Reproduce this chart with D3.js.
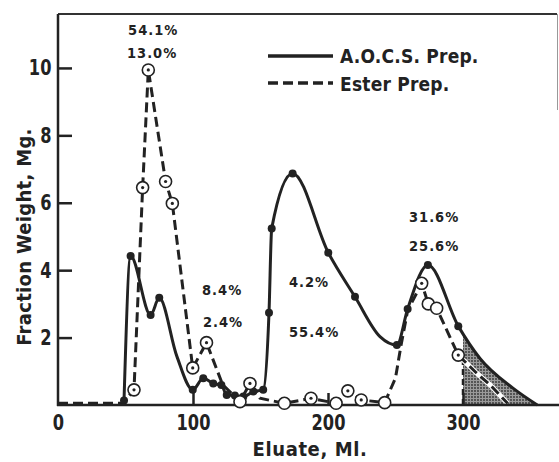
<!DOCTYPE html>
<html>
<head>
<meta charset="utf-8">
<script src="https://cdn.jsdelivr.net/npm/d3@7"></script>
<style>
  body { margin: 0; background: #fff; }
  text { font-family: "DejaVu Sans Condensed", "DejaVu Sans", sans-serif; font-weight: bold; fill: #222; }
</style>
</head>
<body>
<div id="chart"></div>
<script>
// A.O.C.S. prep: [eluate ml, weight mg, has dot]
const aocsPoints = [
    [48.9, 0.13, 1], [53.8, 4.42, 1], [68.6, 2.67, 1], [75, 3.18, 1], [88, 1.45, 0],
    [99.8, 0.45, 1], [107.6, 0.79, 1], [115, 0.64, 1], [121, 0.59, 1], [125, 0.3, 1],
    [131, 0.28, 1], [137.3, 0.25, 1], [144.7, 0.4, 1], [152, 0.45, 1], [156.3, 2.74, 1],
    [158.3, 5.24, 1], [173.8, 6.87, 1], [200.2, 4.52, 1], [220, 3.21, 1], [238.5, 2.03, 0],
    [251, 1.78, 1], [259, 2.85, 1], [274, 4.15, 1], [296.5, 2.34, 1], [312.6, 1.38, 0],
    [337, 0.5, 0], [355, 0, 0]
];
// Ester prep: [eluate ml, weight mg, marker 0 none / 1 dotted circle / 2 open circle]
const esterPoints = [
    [0, 0.05, 0], [48, 0.05, 0], [56.3, 0.45, 1], [62.7, 6.45, 1], [66.9, 9.94, 1],
    [79.7, 6.63, 1], [84.7, 5.98, 1], [99.8, 1.1, 1], [110, 1.85, 1], [122, 0.6, 0],
    [134.8, 0.1, 2], [142.2, 0.64, 1], [149.6, 0.2, 0], [167.7, 0.05, 2], [187.4, 0.2, 1],
    [206, 0.05, 2], [214.7, 0.42, 1], [224.6, 0.15, 1], [242, 0.07, 2], [250, 0.8, 0],
    [254, 1.75, 0], [259, 2.8, 0], [269.4, 3.61, 1], [274.3, 3.0, 2], [280.5, 2.87, 2],
    [296.5, 1.48, 1], [310, 0.95, 0], [320, 0.6, 0], [333, 0.05, 0]
];
const xTicks = [0, 100, 200, 300];
const yTicks = [2, 4, 6, 8, 10];
const shadeStart = 300;
const shadeTop = 1.3;
// percentage notes: [text, eluate, weight]
const notes = [
    ["54.1%", 51.9, 10.98], ["13.0%", 51.1, 10.3],
    ["8.4%", 106.7, 3.26], ["2.4%", 107.4, 2.32],
    ["4.2%", 171.1, 3.51], ["55.4%", 171.1, 2.03],
    ["31.6%", 260, 5.44], ["25.6%", 260, 4.58]
];
const legendNames = ["A.O.C.S. Prep.", "Ester Prep."];

const width = 559, height = 462;
const svg = d3.select("#chart").append("svg")
    .attr("width", width)
    .attr("height", height);

const defs = svg.append("defs");
const pat = defs.append("pattern")
    .attr("id", "stipple")
    .attr("width", 3).attr("height", 3)
    .attr("patternUnits", "userSpaceOnUse");
pat.append("rect").attr("width", 3).attr("height", 3).attr("fill", "#9a9a9a");
pat.append("circle").attr("cx", 1).attr("cy", 1).attr("r", 0.9).attr("fill", "#333");

const xScale = d3.scaleLinear().domain([0, 370]).range([58, 557.5]);
const yScale = d3.scaleLinear().domain([0, 11.6]).range([405, 14]);

defs.append("clipPath").attr("id", "shadeClip")
    .append("rect")
    .attr("x", xScale(shadeStart)).attr("y", 0)
    .attr("width", width - xScale(shadeStart)).attr("height", height);

// frame
svg.append("line").attr("x1", 58).attr("x2", 557).attr("y1", 14).attr("y2", 14)
    .attr("stroke", "#333").attr("stroke-width", 2);
svg.append("line").attr("x1", 557.5).attr("x2", 557.5).attr("y1", 14).attr("y2", 110)
    .attr("stroke", "#999").attr("stroke-width", 1);

// shaded tail under the A.O.C.S. curve
svg.append("path")
    .datum(aocsPoints)
    .attr("clip-path", "url(#shadeClip)")
    .attr("fill", "url(#stipple)")
    .attr("d", d3.area()
        .x(d => xScale(d[0]))
        .y0(yScale(0))
        .y1(d => yScale(d[1]))
        .curve(d3.curveMonotoneX));

svg.append("line")
    .attr("x1", xScale(shadeStart)).attr("x2", xScale(shadeStart))
    .attr("y1", yScale(0)).attr("y2", yScale(shadeTop))
    .attr("stroke", "#222").attr("stroke-width", 2.5)
    .attr("stroke-dasharray", "6,4");

// ester dashed line
const esterLine = d3.line()
    .x(d => xScale(d[0]))
    .y(d => yScale(d[1]));

svg.append("path")
    .datum(esterPoints.filter(d => d[0] >= 296))
    .attr("fill", "none")
    .attr("stroke", "#fff")
    .attr("stroke-width", 5)
    .attr("d", esterLine);

svg.append("path")
    .datum(esterPoints)
    .attr("fill", "none")
    .attr("stroke", "#222")
    .attr("stroke-width", 3)
    .attr("stroke-dasharray", "10,5")
    .attr("d", esterLine);

// A.O.C.S. solid line
svg.append("path")
    .datum(aocsPoints)
    .attr("fill", "none")
    .attr("stroke", "#222")
    .attr("stroke-width", 3)
    .attr("d", d3.line()
        .x(d => xScale(d[0]))
        .y(d => yScale(d[1]))
        .curve(d3.curveMonotoneX));

svg.selectAll("circle.dot")
    .data(aocsPoints.filter(d => d[2]))
    .enter()
    .append("circle")
    .attr("class", "dot")
    .attr("cx", d => xScale(d[0]))
    .attr("cy", d => yScale(d[1]))
    .attr("r", 4)
    .attr("fill", "#222");

// axes, ticks pointing inward
const xAxis = d3.axisBottom(xScale).tickValues(xTicks).tickSize(-12).tickPadding(9);
const yAxis = d3.axisLeft(yScale).tickValues(yTicks).tickSize(-14).tickPadding(8);

const gx = svg.append("g")
    .attr("transform", "translate(0," + yScale(0) + ")")
    .call(xAxis);
const gy = svg.append("g")
    .attr("transform", "translate(" + xScale(0) + ",0)")
    .call(yAxis);

[gx, gy].forEach(g => {
    g.select(".domain").remove();
    g.selectAll("line").attr("stroke", "#222").attr("stroke-width", 2.5);
    g.selectAll("text")
        .attr("font-size", 22)
        .attr("fill", "#222")
        .attr("font-family", null)
        .attr("transform", "scale(0.82,1)");
});
gx.selectAll(".tick").filter(d => d === 0).select("line").remove();

svg.append("line").attr("x1", 58).attr("x2", 58).attr("y1", 14).attr("y2", 406)
    .attr("stroke", "#222").attr("stroke-width", 2.5);
svg.append("line").attr("x1", 57).attr("x2", 559).attr("y1", 405).attr("y2", 405)
    .attr("stroke", "#222").attr("stroke-width", 2.5);

// ester circles drawn over the axis line
const marks = svg.selectAll("g.ester")
    .data(esterPoints.filter(d => d[2] > 0))
    .enter()
    .append("g")
    .attr("class", "ester")
    .attr("transform", d => "translate(" + xScale(d[0]) + "," + yScale(d[1]) + ")");
marks.append("circle")
    .attr("r", 6)
    .attr("fill", "#fff")
    .attr("stroke", "#222")
    .attr("stroke-width", 1.6);
marks.filter(d => d[2] === 1).append("circle")
    .attr("r", 1.6)
    .attr("fill", "#222");

// percentage notes
svg.selectAll("text.note")
    .data(notes)
    .enter()
    .append("text")
    .attr("class", "note")
    .attr("x", d => xScale(d[1]))
    .attr("y", d => yScale(d[2]))
    .attr("font-size", 14.5)
    .attr("letter-spacing", 1)
    .text(d => d[0]);

// legend
const legend = svg.append("g").attr("transform", "translate(268,0)");
legend.append("line").attr("x1", 0).attr("x2", 65).attr("y1", 56).attr("y2", 56)
    .attr("stroke", "#222").attr("stroke-width", 3.5);
legend.append("line").attr("x1", 0).attr("x2", 65).attr("y1", 83).attr("y2", 83)
    .attr("stroke", "#222").attr("stroke-width", 3.5).attr("stroke-dasharray", "10,5");
legend.selectAll("text")
    .data(legendNames)
    .enter()
    .append("text")
    .attr("x", 72)
    .attr("y", (d, i) => 63 + i * 28)
    .attr("font-size", 19)
    .attr("letter-spacing", 0.2)
    .text(d => d);

// axis titles
svg.append("text")
    .attr("x", 310).attr("y", 456)
    .attr("text-anchor", "middle")
    .attr("font-size", 20)
    .attr("letter-spacing", 0.6)
    .text("Eluate, Ml.");
svg.append("text")
    .attr("transform", "translate(31,237) rotate(-90)")
    .attr("text-anchor", "middle")
    .attr("font-size", 20)
    .attr("letter-spacing", 0.3)
    .text("Fraction Weight, Mg.");
</script>
</body>
</html>
